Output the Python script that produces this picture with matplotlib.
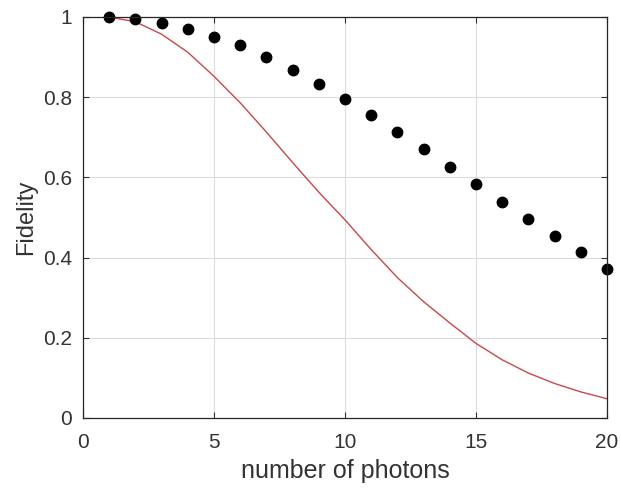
import numpy as np
import matplotlib.pyplot as plt

# photon numbers
photons = np.arange(1, 21)

# black dots
fid_dots = [1.000, 0.995, 0.985, 0.970, 0.951, 0.929, 0.901, 0.868, 0.834, 0.795,
            0.756, 0.714, 0.671, 0.627, 0.583, 0.539, 0.496, 0.454, 0.413, 0.372]

# red curve (at integer photon numbers)
fid_curve = [1.000, 0.988, 0.957, 0.912, 0.852, 0.786, 0.713, 0.637, 0.563, 0.494,
             0.420, 0.350, 0.290, 0.237, 0.186, 0.145, 0.112, 0.086, 0.065, 0.048]

xticks = [0, 5, 10, 15, 20]
yticks = [0, 0.2, 0.4, 0.6, 0.8, 1]
ytick_labels = ['0', '0.2', '0.4', '0.6', '0.8', '1']

plt.rcParams['font.family'] = ['Liberation Sans', 'DejaVu Sans']
txt = '#333333'

fig = plt.figure(figsize=(6.21, 4.91), dpi=100)
ax = fig.add_axes([0.1337, 0.1487, 0.8438, 0.8167])

ax.plot(photons, fid_curve, color='#c8474a', linewidth=1.0)
ax.plot(photons, fid_dots, 'o', color='black', markersize=7.5, clip_on=False)

ax.set_xlim(0, 20)
ax.set_ylim(0, 1)
ax.set_xticks(xticks)
ax.set_yticks(yticks)
ax.set_yticklabels(ytick_labels)
ax.grid(True, color='#dcdcdc', linewidth=0.8)
ax.set_axisbelow(True)
ax.tick_params(direction='in', top=True, right=True, length=4, width=0.8,
               labelsize=15, colors=txt)
ax.tick_params(axis='x', pad=11)
ax.tick_params(axis='y', pad=8)
for s in ax.spines.values():
    s.set_color('#262626')
    s.set_linewidth(0.9)

ax.set_xlabel('number of photons', fontsize=18, color=txt, labelpad=5)
ax.set_ylabel('Fidelity', fontsize=17, color=txt, labelpad=4)

fig.savefig('out.png', dpi=100)
